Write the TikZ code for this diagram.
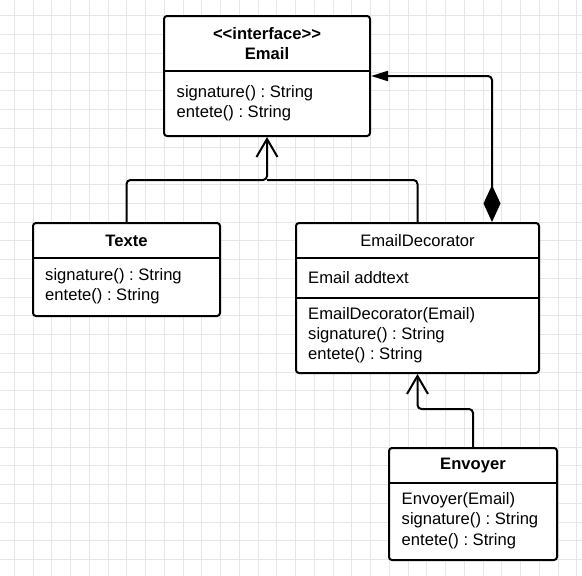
\documentclass[tikz,border=0pt]{standalone}
\usepackage{fontspec}
\setmainfont{Liberation Sans}
\usetikzlibrary{arrows.meta}
\definecolor{gridc}{HTML}{E6E6E6}
\tikzset{
  gridline/.style={draw=gridc, line width=0.9pt},
  umlbox/.style={draw=black, line width=2pt, rounded corners=3pt, fill=white, inner sep=0pt},
  divider/.style={draw=black, line width=2pt},
  txt/.style={inner sep=0pt, anchor=west, yshift=-1.5pt, font=\fontsize{16.6}{20}\selectfont\frenchspacing},
  ttl/.style={inner sep=0pt, yshift=-1.5pt, font=\fontsize{16.6}{20}\selectfont\bfseries},
  ttlr/.style={inner sep=0pt, yshift=-1.5pt, font=\fontsize{16.6}{20}\selectfont},
  conn/.style={draw=black, line width=2pt, rounded corners=4pt},
  gen/.style={conn, -{Straight Barb[length=18pt,width=21pt]}},
  comp/.style={conn, {Diamond[length=37pt,width=17pt]}-{Triangle[length=17pt,width=10pt]}}
}
\begin{document}
\begin{tikzpicture}[x=1pt,y=-1pt]
\useasboundingbox (0,0) rectangle (582,576);
\fill[white] (0,0) rectangle (582,576);
\foreach \i in {0,...,30} {
  \draw[gridline] ({14.3+18.75*\i},0) -- ++(0,576);
  \draw[gridline] (0,{15.7+18.75*\i}) -- ++(582,0);
}
% Email
\node[umlbox, minimum width=206pt, minimum height=120pt] (email) at (267,76) {};
\draw[divider] (email.west |- 0,71) -- (email.east |- 0,71);
\node[ttl] (emailst) at (267,32) {<{}<interface>{}>};
\node[ttl] (emailt) at (267,52) {Email};
\node[txt] (emailm1) at (176.5,92) {signature() : String};
\node[txt] (emailm2) at (176.5,112) {entete() : String};
% Texte
\node[umlbox, minimum width=187pt, minimum height=93pt] (texte) at (126.5,269.5) {};
\draw[divider] (texte.west |- 0,258) -- (texte.east |- 0,258);
\node[ttl] (textet) at (126.5,239) {Texte};
\node[txt] (textem1) at (45,275) {signature() : String};
\node[txt] (textem2) at (45,295) {entete() : String};
% EmailDecorator
\node[umlbox, minimum width=243pt, minimum height=150pt] (ed) at (417.5,298) {};
\draw[divider] (ed.west |- 0,258) -- (ed.east |- 0,258);
\draw[divider] (ed.west |- 0,298) -- (ed.east |- 0,298);
\node[ttlr] (edt) at (417.5,239) {EmailDecorator};
\node[txt] (eda) at (308,276) {Email addtext};
\node[txt] (edm1) at (308,314) {EmailDecorator(Email)};
\node[txt] (edm2) at (308,334) {signature() : String};
\node[txt] (edm3) at (308,354) {entete() : String};
% Envoyer
\node[umlbox, minimum width=168pt, minimum height=112pt] (env) at (473,504) {};
\draw[divider] (env.west |- 0,483) -- (env.east |- 0,483);
\node[ttl] (envt) at (473,464) {Envoyer};
\node[txt] (envm1) at (401.5,499) {Envoyer(Email)};
\node[txt] (envm2) at (401.5,519) {signature() : String};
\node[txt] (envm3) at (401.5,540) {entete() : String};
% connectors
\coordinate (j) at (267,180);
\coordinate (k) at (417.5,409);
\coordinate (cc) at (492,76);
\draw[gen] (texte.north) |- (j) -- (email.south);
\draw[conn] (ed.north) |- (j);
\draw[gen] (env.north) |- (k) -- (ed.south);
\draw[comp] (cc |- ed.north) -- (cc) -- (email.east);
\end{tikzpicture}
\end{document}
